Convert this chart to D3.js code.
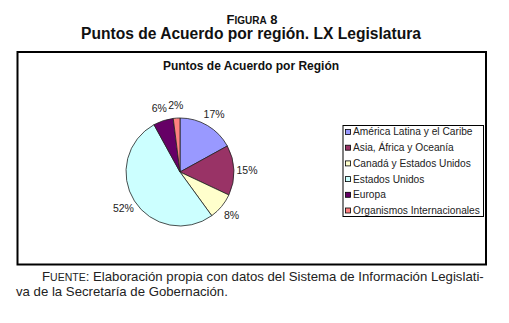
<!DOCTYPE html>
<html>
<head>
<meta charset="utf-8">
<script src="https://cdn.jsdelivr.net/npm/d3@7"></script>
<style>
  body { margin: 0; background: #fff; }
  svg { display: block; font-family: "Liberation Sans", Arial, sans-serif; }
</style>
</head>
<body>
<div id="chart"></div>
<script>
// data
const regions = ["América Latina y el Caribe", "Asia, África y Oceanía", "Canadá y Estados Unidos",
                 "Estados Unidos", "Europa", "Organismos Internacionales"];
const shares = [17, 15, 8, 52, 6, 2];
const colors = ["#9999ff", "#993366", "#ffffcc", "#ccffff", "#660066", "#ff8080"];

const width = 509, height = 323;
const svg = d3.select("#chart").append("svg")
    .attr("width", width)
    .attr("height", height);

// figure heading
const head = svg.append("text")
    .attr("x", 252).attr("y", 23.5)
    .attr("text-anchor", "middle")
    .attr("font-weight", "bold")
    .attr("fill", "#111");
head.append("tspan").attr("font-size", 13).text("F");
head.append("tspan").attr("font-size", 10).text("IGURA");
head.append("tspan").attr("font-size", 13).text(" 8");

svg.append("text")
    .attr("x", 251).attr("y", 39)
    .attr("text-anchor", "middle")
    .attr("font-weight", "bold")
    .attr("font-size", 15.6)
    .attr("fill", "#111")
    .text("Puntos de Acuerdo por región. LX Legislatura");

// outer chart frame
svg.append("rect")
    .attr("x", 17.5).attr("y", 52)
    .attr("width", 468.5).attr("height", 212.5)
    .attr("fill", "#fff")
    .attr("stroke", "#000")
    .attr("stroke-width", 2);

svg.append("text")
    .attr("x", 251).attr("y", 70)
    .attr("text-anchor", "middle")
    .attr("font-weight", "bold")
    .attr("font-size", 12)
    .attr("fill", "#111")
    .text("Puntos de Acuerdo por Región");

// pie
const cx = 180, cy = 172, r = 54;
const pie = d3.pie().sort(null).value(d => d)(shares);
const arc = d3.arc().innerRadius(0).outerRadius(r);
const g = svg.append("g").attr("transform", `translate(${cx},${cy})`);

g.selectAll("path")
  .data(pie)
  .join("path")
    .attr("d", arc)
    .attr("fill", (d, i) => colors[i])
    .attr("stroke", "#222")
    .attr("stroke-width", 0.8);

const labelArc = d3.arc().innerRadius(67).outerRadius(67);
g.selectAll("text")
  .data(pie)
  .join("text")
    .attr("x", d => labelArc.centroid(d)[0])
    .attr("y", d => labelArc.centroid(d)[1] + 4)
    .attr("text-anchor", "middle")
    .attr("font-size", 10.5)
    .attr("fill", "#222")
    .text(d => d.data + "%");

// legend
const lx = 343, ly = 125.5, rowH = 15.7;
svg.append("rect")
    .attr("x", lx).attr("y", ly)
    .attr("width", 140.5).attr("height", 91)
    .attr("fill", "#fff")
    .attr("stroke", "#000")
    .attr("stroke-width", 1);

const leg = svg.append("g")
  .selectAll("g")
  .data(regions)
  .join("g")
    .attr("transform", (d, i) => `translate(${lx + 2.5},${ly + 6.5 + i * rowH})`);

leg.append("rect")
    .attr("x", 0).attr("y", -2.5)
    .attr("width", 5).attr("height", 5)
    .attr("fill", (d, i) => colors[i])
    .attr("stroke", "#000")
    .attr("stroke-width", 0.8);

leg.append("text")
    .attr("x", 7.5).attr("y", 3.4)
    .attr("font-size", 10.2)
    .attr("fill", "#222")
    .text(d => d);

// source note
const note = svg.append("text")
    .attr("x", 42).attr("y", 281)
    .attr("font-size", 13.2)
    .attr("fill", "#222");
note.append("tspan").text("F");
note.append("tspan").attr("font-size", 10.5).text("UENTE");
note.append("tspan").text(": Elaboración propia con datos del Sistema de Información Legislati-");

svg.append("text")
    .attr("x", 16).attr("y", 295.5)
    .attr("font-size", 13.2)
    .attr("fill", "#222")
    .text("va de la Secretaría de Gobernación.");
</script>
</body>
</html>
